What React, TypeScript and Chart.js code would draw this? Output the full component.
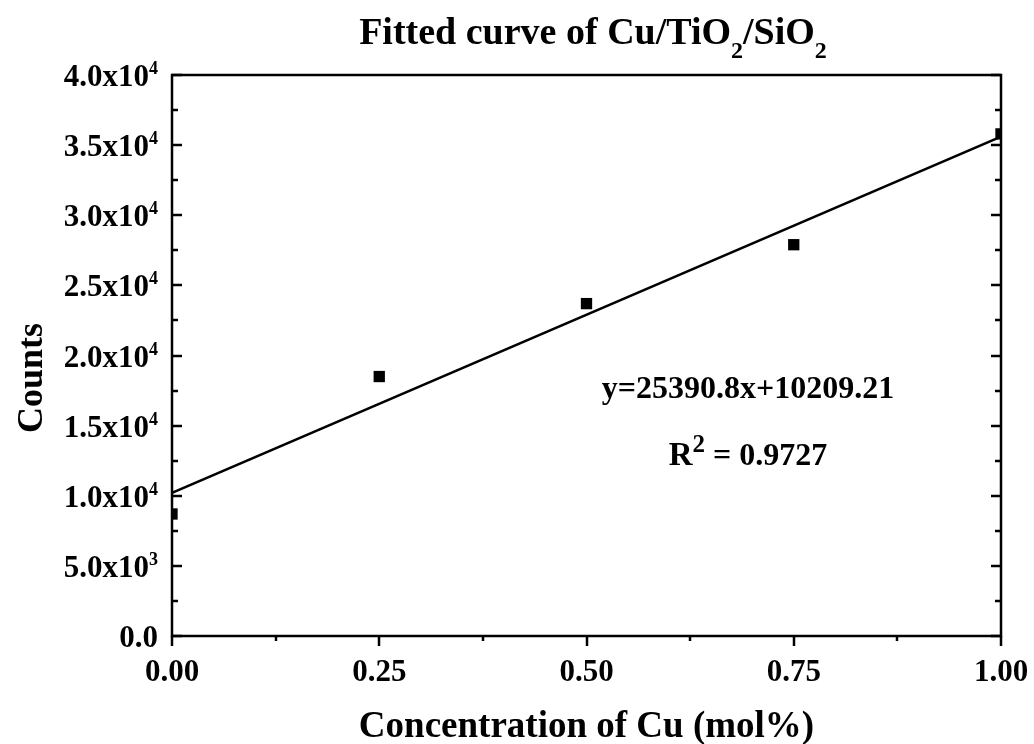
import React, { useEffect, useRef } from "react";
import { Chart, registerables } from "chart.js";

Chart.register(...registerables);

// Measured samples: Cu concentration (mol%) vs. counts
const concentrations = [0, 0.25, 0.5, 0.75, 1.0];
const counts = [8700, 18500, 23700, 27900, 35800];

// Linear fit stated in the annotation
const fitSlope = 25390.8;
const fitIntercept = 10209.21;
const fitXRange = [0, 1];
const equationText = "y=25390.8x+10209.21";
const rSquaredText = "0.9727";

// Axis ticks
const xTickValues = [0, 0.25, 0.5, 0.75, 1.0];
const xTickLabels = ["0.00", "0.25", "0.50", "0.75", "1.00"];
const xMinorTickValues = [0.125, 0.375, 0.625, 0.875];
const yTickValues = [0, 5000, 10000, 15000, 20000, 25000, 30000, 35000, 40000];
const yTickMantissas = ["0.0", "5.0x10", "1.0x10", "1.5x10", "2.0x10", "2.5x10", "3.0x10", "3.5x10", "4.0x10"];
const yTickExponents = ["", "3", "4", "4", "4", "4", "4", "4", "4"];
const yMinorTickValues = [2500, 7500, 12500, 17500, 22500, 27500, 32500, 37500];

const FONT = '"Liberation Serif", "Times New Roman", serif';

type Part = { text: string; size: number; dy: number };

function partsWidth(ctx: CanvasRenderingContext2D, parts: Part[]) {
  let w = 0;
  for (const p of parts) {
    ctx.font = `bold ${p.size}px ${FONT}`;
    w += ctx.measureText(p.text).width;
  }
  return w;
}

// Draws a run of text pieces (for sub/superscripts) on one baseline
function drawParts(ctx: CanvasRenderingContext2D, parts: Part[], x: number, y: number, align: "left" | "center" | "right") {
  const total = partsWidth(ctx, parts);
  let cx = align === "left" ? x : align === "center" ? x - total / 2 : x - total;
  ctx.textAlign = "left";
  ctx.textBaseline = "alphabetic";
  for (const p of parts) {
    ctx.font = `bold ${p.size}px ${FONT}`;
    ctx.fillText(p.text, cx, y + p.dy);
    cx += ctx.measureText(p.text).width;
  }
}

const framePlugin = {
  id: "originFrame",
  afterDraw(chart: any) {
    const { ctx, chartArea } = chart;
    const { left, top, right, bottom } = chartArea;
    const xs = chart.scales.x;
    const ys = chart.scales.y;
    ctx.save();
    ctx.strokeStyle = "#000";
    ctx.fillStyle = "#000";
    ctx.lineWidth = 2.5;
    ctx.lineCap = "butt";

    // plot frame
    ctx.strokeRect(left, top, right - left, bottom - top);

    // y ticks: inward on left and right axes
    ctx.beginPath();
    yTickValues.forEach((v) => {
      const py = Math.round(ys.getPixelForValue(v));
      ctx.moveTo(left, py);
      ctx.lineTo(left + 10, py);
      ctx.moveTo(right, py);
      ctx.lineTo(right - 10, py);
    });
    yMinorTickValues.forEach((v) => {
      const py = Math.round(ys.getPixelForValue(v));
      ctx.moveTo(left, py);
      ctx.lineTo(left + 6, py);
      ctx.moveTo(right, py);
      ctx.lineTo(right - 6, py);
    });
    // x ticks: outward below the bottom axis
    xTickValues.forEach((v) => {
      const px = Math.round(xs.getPixelForValue(v));
      ctx.moveTo(px, bottom);
      ctx.lineTo(px, bottom + 10);
    });
    xMinorTickValues.forEach((v) => {
      const px = Math.round(xs.getPixelForValue(v));
      ctx.moveTo(px, bottom);
      ctx.lineTo(px, bottom + 5);
    });
    ctx.stroke();

    // y tick labels with exponents
    yTickValues.forEach((v, i) => {
      const py = ys.getPixelForValue(v);
      const parts: Part[] = [{ text: yTickMantissas[i], size: 31, dy: 0 }];
      if (yTickExponents[i]) parts.push({ text: yTickExponents[i], size: 18, dy: -12 });
      drawParts(ctx, parts, left - 14, py + 11, "right");
    });

    // x tick labels
    xTickValues.forEach((v, i) => {
      const px = xs.getPixelForValue(v);
      drawParts(ctx, [{ text: xTickLabels[i], size: 31, dy: 0 }], px, bottom + 45, "center");
    });

    // axis titles
    const midX = (left + right) / 2;
    drawParts(ctx, [{ text: "Concentration of Cu (mol%)", size: 37, dy: 0 }], midX, 737, "center");
    ctx.save();
    ctx.translate(42, 378);
    ctx.rotate(-Math.PI / 2);
    drawParts(ctx, [{ text: "Counts", size: 36, dy: 0 }], 0, 0, "center");
    ctx.restore();

    // chart title with subscripts
    drawParts(
      ctx,
      [
        { text: "Fitted curve of Cu/TiO", size: 38, dy: 0 },
        { text: "2", size: 24, dy: 14 },
        { text: "/SiO", size: 38, dy: 0 },
        { text: "2", size: 24, dy: 14 },
      ],
      593,
      44,
      "center"
    );

    // fit annotation
    drawParts(ctx, [{ text: equationText, size: 32, dy: 0 }], 748, 398, "center");
    drawParts(
      ctx,
      [
        { text: "R", size: 33, dy: 0 },
        { text: "2", size: 25, dy: -13 },
        { text: " = " + rSquaredText, size: 32, dy: 0 },
      ],
      748,
      465,
      "center"
    );

    ctx.restore();
  },
};

export default function App() {
  const canvasRef = useRef<HTMLCanvasElement | null>(null);

  useEffect(() => {
    const canvas = canvasRef.current;
    if (!canvas) return;
    const samplePoints = concentrations.map((c, i) => ({ x: c, y: counts[i] }));
    const fitPoints = fitXRange.map((x) => ({ x, y: fitSlope * x + fitIntercept }));

    const chart = new Chart(canvas, {
      type: "scatter",
      data: {
        datasets: [
          {
            label: "Linear fit",
            data: fitPoints,
            showLine: true,
            borderColor: "#000",
            borderWidth: 2.5,
            pointRadius: 0,
            clip: 0,
            order: 2,
          },
          {
            label: "Counts",
            data: samplePoints,
            pointStyle: "rect",
            pointRadius: 8,
            pointBorderWidth: 0,
            backgroundColor: "#000",
            borderColor: "#000",
            clip: 0,
            order: 1,
          },
        ],
      },
      options: {
        responsive: false,
        animation: false,
        events: [],
        layout: { padding: { left: 172, top: 75, right: 33, bottom: 108 } },
        plugins: {
          legend: { display: false },
          tooltip: { enabled: false },
          title: { display: false },
        },
        scales: {
          x: { type: "linear", min: 0, max: 1, display: false },
          y: { type: "linear", min: 0, max: 40000, display: false },
        },
      },
      plugins: [framePlugin],
    });
    return () => chart.destroy();
  }, []);

  return (
    <div style={{ position: "absolute", left: 0, top: 0, width: 1034, height: 744, background: "#fff" }}>
      <canvas ref={canvasRef} width={1034} height={744} style={{ display: "block" }} />
    </div>
  );
}
